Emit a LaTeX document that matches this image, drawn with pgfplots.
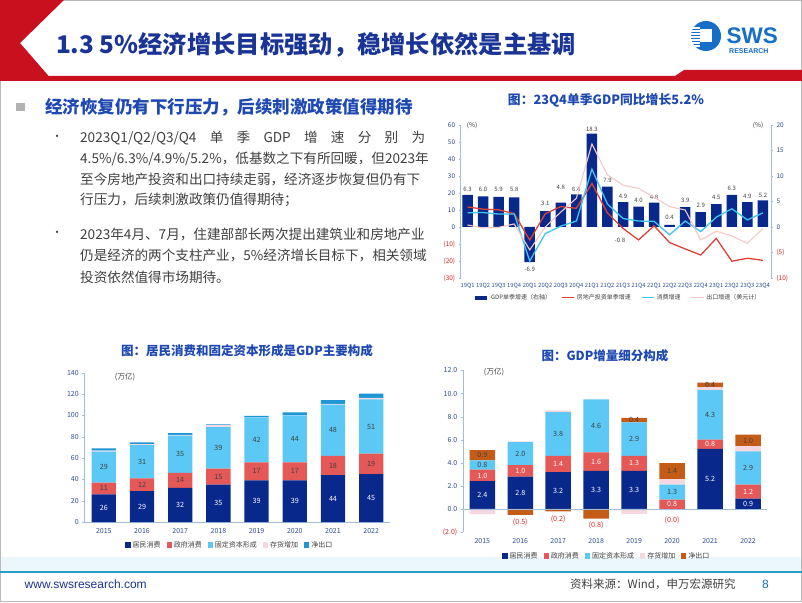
\documentclass[border=0pt]{standalone}
\usepackage{pgfplots}
\pgfplotsset{compat=1.18}
\usepackage{fontspec}
\setmainfont{Noto Sans CJK SC}
\newfontfamily\arial{Liberation Sans}
\XeTeXlinebreaklocale "zh"
\XeTeXlinebreakskip=0pt plus 3pt

\definecolor{headred}{RGB}{200,16,30}
\definecolor{titleblue}{RGB}{26,52,150}
\definecolor{headblue}{RGB}{30,72,178}
\definecolor{bodygray}{RGB}{64,64,64}
\definecolor{logoblue}{RGB}{21,110,200}
\definecolor{navy}{RGB}{8,40,140}
\definecolor{barred}{RGB}{228,88,88}
\definecolor{barblue}{RGB}{92,200,245}
\definecolor{invpink}{RGB}{245,215,224}
\definecolor{nxblue}{RGB}{28,150,212}
\definecolor{nxorange}{RGB}{196,92,24}
\definecolor{lred}{RGB}{222,66,58}
\definecolor{lcyan}{RGB}{64,196,240}
\definecolor{lpink}{RGB}{245,200,202}
\definecolor{ticklab}{RGB}{48,78,150}
\definecolor{axisblue}{RGB}{160,190,220}
\definecolor{negred}{RGB}{222,40,40}
\definecolor{footteal}{RGB}{40,160,200}
\definecolor{bandblue}{RGB}{236,247,252}

\pgfplotsset{/pgf/number format/assume math mode=true}
\tikzset{
  lbltop/.style={font=\fontsize{6}{7}\selectfont, text=bodygray, inner sep=0pt},
  lblw/.style={font=\fontsize{7.2}{8}\selectfont, text=white, inner sep=0pt},
  lbld/.style={font=\fontsize{7.2}{8}\selectfont, text=bodygray, inner sep=0pt},
  lblr/.style={font=\fontsize{7.2}{8}\selectfont, text=negred, inner sep=0pt},
}
\newcommand\bodyfont{\fontsize{13.6}{16}\selectfont}

\begin{document}
\begin{tikzpicture}
\useasboundingbox (0,0) rectangle (802pt,602pt);
\fill[white] (0,0) rectangle (802pt,602pt);
\begin{scope}[x=1pt,y=-1pt,shift={(0pt,602pt)}]
% frame
\draw[gray!55, line width=1pt] (0.5,0.5) rectangle (801.5,601.5);
% header shape
\fill[headred] (0,0) -- (64,0) -- (20,43) -- (48.6,76) -- (675,76) -- (684,70) -- (802,70) -- (802,81) -- (0,81) -- cycle;
% logo
\fill[logoblue] (706,36) circle (15);
\fill[white] (700,29.5) rectangle (712,42);
\foreach \yy in {27.5,30.5,33.5,36.5,39.5,42.5,45.5}{\fill[white] (689,\yy) rectangle (700,\yy+1.1);}
\node[anchor=west, inner sep=0pt, font=\arial\bfseries\fontsize{22.5}{23}\selectfont, text=logoblue] at (726.5,35.5) {SWS};
\node[anchor=west, inner sep=0pt, font=\arial\bfseries\fontsize{7}{8}\selectfont, text=logoblue] at (729,51.5) {RESEARCH};
% title
\node[anchor=west, inner sep=0pt, font=\bfseries\fontsize{24.3}{26}\selectfont, text=titleblue] at (56,45) {1.3 5\%经济增长目标强劲，稳增长依然是主基调};
% heading
\fill[gray!60] (15.5,103) rectangle (25,111);
\node[anchor=west, inner sep=0pt, font=\bfseries\fontsize{17.5}{20}\selectfont, text=headblue] at (45,107) {经济恢复仍有下行压力，后续刺激政策值得期待};
% bullets
\node[anchor=center, inner sep=0pt, font=\fontsize{11}{12}\selectfont, text=bodygray] at (57,138.3) {•};
\node[anchor=center, inner sep=0pt, font=\fontsize{11}{12}\selectfont, text=bodygray] at (57,234) {•};
\node[anchor=west, inner sep=0pt, font=\bodyfont, text=bodygray] at (80,138.3) {\makebox[345pt][s]{2023Q1/Q2/Q3/Q4 单 季 GDP 增 速 分 别 为}};
\node[anchor=west, inner sep=0pt, font=\bodyfont, text=bodygray] at (80,159.3) {\makebox[345pt][s]{4.5\%/6.3\%/4.9\%/5.2\%，低基数之下有所回暖，但2023年}};
\node[anchor=west, inner sep=0pt, font=\bodyfont, text=bodygray] at (80,179.5) {\makebox[345pt][s]{至今房地产投资和出口持续走弱，经济逐步恢复但仍有下}};
\node[anchor=west, inner sep=0pt, font=\bodyfont, text=bodygray] at (80,200) {行压力，后续刺激政策仍值得期待；};
\node[anchor=west, inner sep=0pt, font=\bodyfont, text=bodygray] at (80,234) {\makebox[345pt][s]{2023年4月、7月，住建部部长两次提出建筑业和房地产业}};
\node[anchor=west, inner sep=0pt, font=\bodyfont, text=bodygray] at (80,255.5) {\makebox[345pt][s]{仍是经济的两个支柱产业，5\%经济增长目标下，相关领域}};
\node[anchor=west, inner sep=0pt, font=\bodyfont, text=bodygray] at (80,277.5) {投资依然值得市场期待。};
% chart titles and units
\node[inner sep=0pt, font=\bfseries\fontsize{12.8}{14}\selectfont, text=headblue] at (606,100) {图：23Q4单季GDP同比增长5.2\%};
\node[inner sep=0pt, font=\bfseries\fontsize{12.5}{14}\selectfont, text=headblue] at (247,350.5) {图：居民消费和固定资本形成是GDP主要构成};
\node[inner sep=0pt, font=\bfseries\fontsize{12.5}{14}\selectfont, text=headblue] at (605,355.5) {图：GDP增量细分构成};
\node[inner sep=0pt, font=\fontsize{6.5}{7}\selectfont, text=bodygray] at (472,125.5) {(\%)};
\node[inner sep=0pt, font=\fontsize{6.5}{7}\selectfont, text=bodygray] at (758,125.5) {(\%)};
\node[inner sep=0pt, font=\fontsize{7.5}{8}\selectfont, text=bodygray] at (125,377) {(万亿)};
\node[inner sep=0pt, font=\fontsize{7.5}{8}\selectfont, text=bodygray] at (494,372.5) {(万亿)};
% footer
\fill[bandblue] (1,557) rectangle (801,571);
\draw[footteal, line width=2pt] (0,572) -- (802,572);
\node[anchor=west, inner sep=0pt, font=\arial\fontsize{12}{13}\selectfont, text=titleblue] at (24.5,584.5) {www.swsresearch.com};
\node[anchor=west, inner sep=0pt, font=\fontsize{11.5}{13}\selectfont, text=bodygray] at (570,584.5) {资料来源：Wind，申万宏源研究};
\node[anchor=west, inner sep=0pt, font=\arial\fontsize{12}{13}\selectfont, text=logoblue] at (762,584.5) {8};
\end{scope}

% ---------- top chart: bars (right axis) ----------
\begin{axis}[at={(460.7pt,324pt)}, anchor=south west, scale only axis,
  width=310.3pt, height=153pt, xmin=-0.44, xmax=19.52, ymin=-10, ymax=20, clip=false,
  axis x line=none, axis y line*=right,
  y axis line style={draw=axisblue, line width=0.6pt},
  ytick={-10,-5,0,5,10,15,20},
  yticklabels={\textcolor{negred}{(10)},\textcolor{negred}{(5)},0,5,10,15,20},
  yticklabel style={font=\fontsize{6.5}{7}\selectfont, text=ticklab},
  ytick style={draw=axisblue}, tick align=outside, major tick length=2pt,
  ybar, bar width=10.5pt]
\addplot[fill=navy, draw=none] coordinates {
 (0,6.3) (1,6.0) (2,5.9) (3,5.8) (4,-6.9) (5,3.1) (6,4.8) (7,6.4) (8,18.3) (9,7.9)
 (10,4.9) (11,4.0) (12,4.8) (13,0.4) (14,3.9) (15,2.9) (16,4.5) (17,6.3) (18,4.9) (19,5.2)};
\foreach \x/\y/\t in {0/7.45/6.3,1/7.45/6.0,2/7.45/5.9,3/7.45/5.8,4/-8.3/-6.9,5/4.7/3.1,6/7.8/4.8,7/7.45/6.4,8/19.2/18.3,9/9.2/7.9,10/6.1/4.9,11/5.3/4.0,12/5.9/4.8,13/1.8/0.4,14/5.2/3.9,15/4.25/2.9,16/5.75/4.5,17/7.6/6.3,18/6.1/4.9,19/6.3/5.2,9.8/-2.55/-0.8}{
  \edef\tmp{\noexpand\node[lbltop] at (axis cs:\x,\y) {\t};}\tmp}
\end{axis}

% ---------- top chart: lines (left axis) ----------
\begin{axis}[at={(460.7pt,324pt)}, anchor=south west, scale only axis,
  width=310.3pt, height=153pt, xmin=-0.44, xmax=19.52, ymin=-30, ymax=60, clip=false,
  axis x line*=bottom, axis y line*=left,
  x axis line style={draw=none}, y axis line style={draw=axisblue, line width=0.6pt},
  xtick={0,...,19},
  xticklabels={19Q1,19Q2,19Q3,19Q4,20Q1,20Q2,20Q3,20Q4,21Q1,21Q2,21Q3,21Q4,22Q1,22Q2,22Q3,22Q4,23Q1,23Q2,23Q3,23Q4},
  xtick style={draw=none},
  xticklabel style={font=\fontsize{5.8}{6}\selectfont, text=ticklab},
  ytick={-30,-20,...,60},
  yticklabels={\textcolor{negred}{(30)},\textcolor{negred}{(20)},\textcolor{negred}{(10)},0,10,20,30,40,50,60},
  yticklabel style={font=\fontsize{6.5}{7}\selectfont, text=ticklab},
  ytick style={draw=axisblue}, tick align=outside, major tick length=2pt,
  legend image code/.code={\draw[#1] (0pt,0pt) -- (12.5pt,0pt);},
  legend style={at={(0.505,-0.129)}, anchor=center, draw=none, fill=none,
    legend columns=4, font=\fontsize{6}{7}\selectfont, text=bodygray,
    /tikz/every even column/.append style={column sep=8pt}}]
\addlegendimage{line width=4pt, navy}
\addlegendentry{GDP单季增速（右轴）}
\addplot[lred, line width=1.3pt] coordinates {
 (0,11.8) (1,10.5) (2,10.1) (3,7.9) (4,-7.7) (5,7.8) (6,12.0) (7,11.0) (8,25.6) (9,8.2)
 (10,-0.8) (11,-7.6) (12,0.7) (13,-9.2) (14,-12.9) (15,-16.5) (16,-6.7) (17,-20.1) (18,-18.4) (19,-19.6)};
\addlegendentry{房地产投资单季增速}
\addplot[lcyan, line width=1.3pt] coordinates {
 (0,8.4) (1,8.5) (2,7.6) (3,7.7) (4,-20.0) (5,-3.9) (6,0.5) (7,3.5) (8,34.0) (9,13.5)
 (10,5.0) (11,3.5) (12,3.3) (13,-4.6) (14,3.5) (15,-2.7) (16,5.8) (17,10.7) (18,4.2) (19,8.3)};
\addlegendentry{消费增速}
\addplot[lpink, line width=1.1pt] coordinates {
 (0,1.2) (1,-0.6) (2,-0.2) (3,1.8) (4,-13.5) (5,0.0) (6,8.8) (7,16.9) (8,48.8) (9,30.6)
 (10,24.6) (11,22.7) (12,17.5) (13,12.0) (14,10.0) (15,-7.6) (16,-2.5) (17,-5.3) (18,-9.6) (19,-0.9)};
\addlegendentry{出口增速（美元计）}
\end{axis}

% ---------- bottom-left chart ----------
\begin{axis}[at={(84.7pt,80pt)}, anchor=south west, scale only axis,
  width=305.6pt, height=149.3pt, xmin=-0.5, xmax=7.5, ymin=0, ymax=140, clip=false,
  axis x line*=bottom, axis y line*=left,
  axis line style={draw=axisblue, line width=0.6pt},
  ybar stacked, bar width=24.3pt,
  xtick={0,...,7}, xticklabels={2015,2016,2017,2018,2019,2020,2021,2022},
  xtick style={draw=none},
  ytick={0,20,...,140}, ytick style={draw=axisblue}, tick align=outside, major tick length=2.5pt,
  tick label style={font=\fontsize{7}{8}\selectfont, text=ticklab},
  legend image code/.code={\fill[#1] (0pt,-2.6pt) rectangle (5.2pt,2.6pt);},
  legend style={at={(0.475,-0.154)}, anchor=center, draw=none, fill=none,
    legend columns=5, font=\fontsize{7}{8}\selectfont, text=bodygray,
    /tikz/every even column/.append style={column sep=4pt}}]
\addplot[fill=navy, draw=none] coordinates {(0,26) (1,29) (2,32) (3,35) (4,39) (5,39) (6,44) (7,45)};
\addlegendentry{居民消费}
\addplot[fill=barred, draw=none] coordinates {(0,11) (1,12) (2,14) (3,15) (4,17) (5,17) (6,18) (7,19)};
\addlegendentry{政府消费}
\addplot[fill=barblue, draw=none] coordinates {(0,29) (1,31) (2,35) (3,39) (4,42) (5,44) (6,48) (7,51)};
\addlegendentry{固定资本形成}
\addplot[fill=invpink, draw=none] coordinates {(0,1.0) (1,1.0) (2,0.8) (3,1.8) (4,0.4) (5,0.3) (6,0.8) (7,1.5)};
\addlegendentry{存货增加}
\addplot[fill=nxblue, draw=none] coordinates {(0,2.0) (1,1.7) (2,1.5) (3,0.8) (4,1.2) (5,2.5) (6,3.6) (7,3.8)};
\addlegendentry{净出口}
\end{axis}
% labels overlay for bottom-left chart
\begin{axis}[at={(84.7pt,80pt)}, anchor=south west, scale only axis,
  width=305.6pt, height=149.3pt, xmin=-0.5, xmax=7.5, ymin=0, ymax=140, clip=false, hide axis]
\foreach \x/\y/\t in {0/13/26,1/14.5/29,2/16/32,3/17.5/35,4/19.5/39,5/19.5/39,6/22/44,7/22.5/45}{
  \edef\tmp{\noexpand\node[lblw] at (axis cs:\x,\y) {\t};}\tmp}
\foreach \x/\y/\t in {0/31.5/11,1/35/12,2/39/14,3/42.5/15,4/47.5/17,5/47.5/17,6/53/18,7/54.5/19,
  0/51.5/29,1/56.5/31,2/63.5/35,3/69.5/39,4/77/42,5/78/44,6/86/48,7/89.5/51}{
  \edef\tmp{\noexpand\node[lbld] at (axis cs:\x,\y) {\t};}\tmp}
\end{axis}

% ---------- bottom-right chart: positive parts ----------
\begin{axis}[at={(463.3pt,70pt)}, anchor=south west, scale only axis,
  width=303.7pt, height=161.5pt, xmin=-0.5, xmax=7.5, ymin=-2, ymax=12, clip=false,
  axis x line*=bottom, axis y line*=left,
  x axis line style={draw=none}, y axis line style={draw=axisblue, line width=0.6pt},
  ybar stacked, bar width=25.5pt,
  xtick={0,...,7}, xticklabels={2015,2016,2017,2018,2019,2020,2021,2022},
  xtick style={draw=none},
  ytick={-2,0,2,4,6,8,10,12},
  yticklabels={\textcolor{negred}{(2.0)},0.0,2.0,4.0,6.0,8.0,10.0,12.0},
  ytick style={draw=axisblue}, tick align=outside, major tick length=2.5pt,
  tick label style={font=\fontsize{7}{8}\selectfont, text=ticklab},
  legend image code/.code={\fill[#1] (0pt,-2.6pt) rectangle (5.2pt,2.6pt);},
  legend style={at={(0.473,-0.149)}, anchor=center, draw=none, fill=none,
    legend columns=5, font=\fontsize{7}{8}\selectfont, text=bodygray,
    /tikz/every even column/.append style={column sep=4pt}}]
\addplot[fill=navy, draw=none] coordinates {(0,2.4) (1,2.8) (2,3.2) (3,3.3) (4,3.3) (5,0) (6,5.2) (7,0.9)};
\addlegendentry{居民消费}
\addplot[fill=barred, draw=none] coordinates {(0,1.0) (1,1.0) (2,1.4) (3,1.6) (4,1.3) (5,0.8) (6,0.8) (7,1.2)};
\addlegendentry{政府消费}
\addplot[fill=barblue, draw=none] coordinates {(0,0.8) (1,2.0) (2,3.8) (3,4.6) (4,2.9) (5,1.3) (6,4.3) (7,2.9)};
\addlegendentry{固定资本形成}
\addplot[fill=invpink, draw=none] coordinates {(0,0) (1,0.05) (2,0.15) (3,0) (4,0) (5,0.48) (6,0.25) (7,0.45)};
\addlegendentry{存货增加}
\addplot[fill=nxorange, draw=none] coordinates {(0,0.9) (1,0) (2,0) (3,0) (4,0.4) (5,1.4) (6,0.4) (7,1.0)};
\addlegendentry{净出口}
\end{axis}

% ---------- bottom-right chart: negative parts and labels ----------
\begin{axis}[at={(463.3pt,70pt)}, anchor=south west, scale only axis,
  width=303.7pt, height=161.5pt, xmin=-0.5, xmax=7.5, ymin=-2, ymax=12, clip=false,
  hide axis, ybar stacked, bar width=25.5pt]
\addplot[fill=navy, draw=none] coordinates {(0,0) (1,0) (2,0) (3,0) (4,0) (5,-0.04) (6,0) (7,0)};
\addplot[fill=invpink, draw=none] coordinates {(0,-0.45) (1,0) (2,0) (3,0) (4,-0.43) (5,0) (6,0) (7,0)};
\addplot[fill=nxorange, draw=none] coordinates {(0,0) (1,-0.52) (2,-0.22) (3,-0.85) (4,0) (5,0) (6,0) (7,0)};
\end{axis}
\begin{axis}[at={(463.3pt,70pt)}, anchor=south west, scale only axis,
  width=303.7pt, height=161.5pt, xmin=-0.5, xmax=7.5, ymin=-2, ymax=12, clip=false, hide axis]
\draw[axisblue, line width=0.6pt] (axis cs:-0.5,0) -- (axis cs:7.5,0);
\foreach \x/\y/\t in {0/1.2/2.4,1/1.4/2.8,2/1.6/3.2,3/1.65/3.3,4/1.65/3.3,6/2.6/5.2,7/0.45/0.9,
  0/2.9/1.0,1/3.3/1.0,2/3.9/1.4,3/4.1/1.6,4/3.95/1.3,5/0.4/0.8,6/5.6/0.8,7/1.5/1.2}{
  \edef\tmp{\noexpand\node[lblw] at (axis cs:\x,\y) {\t};}\tmp}
\foreach \x/\y/\t in {0/3.8/0.8,1/4.8/2.0,2/6.5/3.8,3/7.2/4.6,4/6.05/2.9,5/1.45/1.3,6/8.15/4.3,7/3.55/2.9,
  0/4.65/0.9,4/7.7/0.4,5/3.3/1.4,6/10.75/0.4,7/5.9/1.0}{
  \edef\tmp{\noexpand\node[lbld] at (axis cs:\x,\y) {\t};}\tmp}
\foreach \x/\y/\t in {1/-1.19/(0.5),2/-0.87/(0.2),3/-1.45/(0.8),5/-0.95/(0.0)}{
  \edef\tmp{\noexpand\node[lblr] at (axis cs:\x,\y) {\t};}\tmp}
\end{axis}
\end{tikzpicture}
\end{document}
